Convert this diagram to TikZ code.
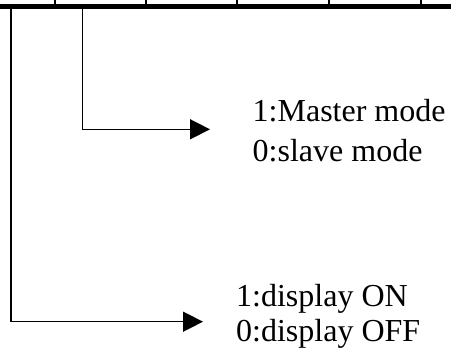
\documentclass[tikz,border=0pt]{standalone}
\usepackage{fontspec}
\setmainfont{Liberation Serif}
\usetikzlibrary{arrows.meta}
\begin{document}
\begin{tikzpicture}[x=1pt,y=-1pt,
  wire/.style={line width=1.5pt},
  bar/.style={line width=4.7pt},
  tick/.style={line width=1.4pt},
  arrowline/.style={wire,-{Triangle[length=20pt,width=20pt]}},
  lbl/.style={anchor=base west,inner sep=0pt,font=\fontsize{32}{38}\selectfont}]
\useasboundingbox (0,0) rectangle (451,361);
% register bar
\coordinate (barL) at (0,6.4);
\coordinate (barR) at (451,6.4);
\draw[bar] (barL) -- (barR);
\foreach \x [count=\i] in {55,146,237,329,421}{
  \coordinate (t\i a) at (\x,0);
  \coordinate (t\i b) at (\x,5);
  \draw[tick] (t\i a) -- (t\i b);
}
% bit lines
\coordinate (b1top) at (11,8.5);
\coordinate (b1corner) at (11,321.7);
\coordinate (b1end) at (203,321.7);
\coordinate (b2top) at (82.3,8.5);
\coordinate (b2corner) at (82.3,129.3);
\coordinate (b2end) at (210,129.3);
\draw[arrowline] (b2top) -- (b2corner) -- (b2end);
\draw[arrowline] (b1top) -- (b1corner) -- (b1end);
% labels
\node[lbl] (m1) at (252.5,121.7) {1:Master mode};
\node[lbl] (m0) at (252.5,161.7) {0:slave mode};
\node[lbl] (d1) at (236,306.7) {1:display ON};
\node[lbl] (d0) at (236,341.7) {0:display OFF};
\end{tikzpicture}
\end{document}
